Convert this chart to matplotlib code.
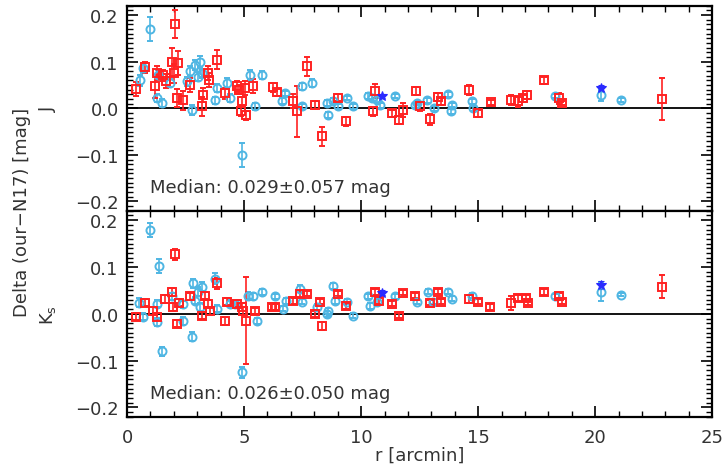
"""
Photometry comparison: our magnitudes minus N17, as a function of radius.
Two stacked panels (J, Ks), IDL-style framing.
"""

import matplotlib
matplotlib.use("Agg")
import matplotlib.pyplot as plt
from matplotlib.ticker import MultipleLocator


# ---------------------------------------------------------------------------
# Data
# ---------------------------------------------------------------------------

# J band, cyan circles
j_cyan_r   = [0.55, 0.68, 0.98, 1.28, 1.32, 1.50, 1.84, 2.56, 2.70, 2.78, 2.90, 3.03, 3.10, 3.20,
              3.76, 3.85, 4.27, 4.40, 4.90, 5.26, 5.47, 5.77, 6.62, 6.75, 7.48, 7.48, 7.90, 8.55,
              8.60, 8.80, 9.00, 9.40, 9.66, 10.30, 10.45, 10.70, 10.80, 11.45, 12.30, 12.40, 12.80,
              13.10, 13.70, 13.85, 13.90, 14.75, 14.80, 18.30, 20.25, 21.10]
j_cyan_d   = [0.060, 0.086, 0.170, 0.022, 0.071, 0.011, 0.054, 0.058, 0.080, -0.004, 0.093, 0.068,
              0.100, 0.075, 0.017, 0.043, 0.054, 0.022, -0.100, 0.071, 0.004, 0.071, 0.015, 0.032,
              0.047, 0.004, 0.054, 0.011, -0.015, 0.015, 0.004, 0.022, 0.004, 0.026, 0.022, 0.017,
              0.006, 0.026, 0.006, 0.011, 0.017, 0.000, 0.030, -0.007, 0.007, 0.015, 0.000, 0.026,
              0.028, 0.017]
j_cyan_e   = [0.012, 0.010, 0.025, 0.008, 0.010, 0.008, 0.008, 0.010, 0.010, 0.010, 0.010, 0.010,
              0.012, 0.010, 0.008, 0.008, 0.010, 0.008, 0.025, 0.010, 0.008, 0.008, 0.006, 0.006,
              0.008, 0.006, 0.008, 0.006, 0.006, 0.006, 0.006, 0.005, 0.005, 0.006, 0.006, 0.006,
              0.006, 0.005, 0.005, 0.005, 0.005, 0.005, 0.005, 0.005, 0.005, 0.005, 0.005, 0.005,
              0.012, 0.004]

# J band, red squares
j_red_r    = [0.38, 0.77, 1.20, 1.30, 1.54, 1.67, 1.92, 2.05, 2.00, 2.18, 2.14, 2.40, 2.70, 3.20,
              3.25, 3.46, 3.50, 3.85, 4.19, 4.70, 4.80, 4.90, 4.87, 5.10, 5.04, 5.40, 6.24, 6.40,
              7.10, 7.26, 7.70, 8.03, 8.33, 9.00, 9.36, 10.60, 10.50, 11.30, 11.60, 11.80, 12.35,
              12.50, 12.95, 13.30, 13.40, 14.60, 15.00, 15.55, 16.40, 16.70, 16.90, 17.10, 17.80,
              18.45, 18.60, 22.85]
j_red_d    = [0.041, 0.088, 0.047, 0.075, 0.071, 0.058, 0.100, 0.180, 0.075, 0.097, 0.022, 0.017,
              0.050, 0.004, 0.028, 0.075, 0.060, 0.104, 0.032, 0.047, 0.040, 0.015, -0.007, -0.015,
              0.043, 0.047, 0.045, 0.034, 0.015, -0.007, 0.090, 0.007, -0.060, 0.023, -0.028,
              0.037, -0.007, -0.011, -0.025, -0.004, 0.037, 0.004, -0.024, 0.024, 0.015, 0.039,
              -0.011, 0.013, 0.018, 0.015, 0.021, 0.028, 0.060, 0.021, 0.011, 0.019]
j_red_e    = [0.015, 0.012, 0.025, 0.015, 0.012, 0.015, 0.030, 0.030, 0.020, 0.025, 0.020, 0.020,
              0.015, 0.020, 0.015, 0.015, 0.015, 0.020, 0.012, 0.012, 0.010, 0.010, 0.010, 0.010,
              0.015, 0.015, 0.010, 0.008, 0.015, 0.055, 0.020, 0.008, 0.020, 0.008, 0.010, 0.015,
              0.010, 0.008, 0.008, 0.015, 0.008, 0.010, 0.012, 0.008, 0.008, 0.010, 0.008, 0.005,
              0.010, 0.012, 0.008, 0.008, 0.008, 0.012, 0.005, 0.045]

# J band, blue stars
j_blue_r   = [10.90, 20.25]
j_blue_d   = [0.026, 0.043]
j_blue_e   = [0.005, 0.006]

# Ks band, cyan circles
k_cyan_r   = [0.50, 0.68, 0.98, 1.28, 1.28, 1.37, 1.50, 1.92, 2.40, 2.40, 2.78, 2.82, 3.03, 3.20,
              2.90, 3.10, 3.76, 3.85, 4.40, 4.60, 4.90, 5.17, 5.40, 5.55, 5.77, 6.30, 6.67, 6.80,
              7.40, 7.48, 8.10, 8.55, 8.60, 8.80, 8.90, 9.40, 9.66, 10.30, 10.40, 10.70, 11.45,
              12.40, 12.86, 13.08, 13.70, 13.90, 14.75, 18.30, 20.25, 21.10]
k_cyan_d   = [0.024, -0.006, 0.178, 0.022, -0.017, 0.103, -0.080, 0.037, 0.020, -0.015, -0.049,
              0.065, 0.047, 0.058, 0.028, 0.015, 0.075, 0.011, 0.022, 0.022, -0.125, 0.039, 0.037,
              -0.015, 0.047, 0.037, 0.011, 0.028, 0.054, 0.026, 0.015, 0.000, 0.006, 0.060, 0.028,
              0.026, -0.004, 0.037, 0.017, 0.026, 0.037, 0.026, 0.047, 0.026, 0.047, 0.032, 0.039,
              0.037, 0.047, 0.041]
k_cyan_e   = [0.010, 0.008, 0.015, 0.008, 0.008, 0.015, 0.010, 0.008, 0.008, 0.008, 0.010, 0.010,
              0.010, 0.010, 0.008, 0.008, 0.012, 0.008, 0.008, 0.008, 0.012, 0.008, 0.008, 0.006,
              0.006, 0.006, 0.006, 0.006, 0.008, 0.006, 0.006, 0.006, 0.006, 0.006, 0.006, 0.006,
              0.005, 0.006, 0.006, 0.006, 0.005, 0.005, 0.005, 0.005, 0.005, 0.005, 0.006, 0.005,
              0.020, 0.004]

# Ks band, red squares
k_red_r    = [0.38, 0.77, 1.10, 1.30, 1.62, 1.92, 2.05, 1.97, 2.14, 2.20, 2.70, 3.20, 3.33, 3.45,
              3.55, 3.85, 4.19, 4.27, 4.70, 4.90, 5.10, 4.95, 5.47, 6.20, 6.30, 7.10, 7.40, 7.70,
              8.03, 8.25, 8.33, 9.00, 9.36, 10.60, 10.75, 11.30, 11.60, 11.80, 12.30, 12.95, 13.30,
              13.40, 14.60, 15.00, 15.50, 16.40, 16.70, 17.05, 17.15, 17.80, 18.45, 18.60, 22.85]
k_red_d    = [-0.006, 0.024, 0.006, -0.006, 0.032, 0.047, 0.127, 0.015, -0.021, 0.024, 0.037,
              -0.004, 0.039, 0.022, 0.006, 0.065, -0.015, 0.026, 0.022, 0.015, -0.015, 0.006, 0.006,
              0.015, 0.015, 0.028, 0.043, 0.043, 0.000, 0.026, -0.026, 0.043, 0.017, 0.047, 0.028,
              0.022, -0.004, 0.045, 0.039, 0.024, 0.047, 0.026, 0.032, 0.026, 0.015, 0.024, 0.034,
              0.034, 0.024, 0.047, 0.039, 0.026, 0.058]
k_red_e    = [0.008, 0.008, 0.008, 0.008, 0.008, 0.008, 0.012, 0.008, 0.008, 0.008, 0.008, 0.008,
              0.008, 0.008, 0.008, 0.012, 0.008, 0.008, 0.008, 0.008, 0.093, 0.008, 0.006, 0.006,
              0.006, 0.006, 0.008, 0.006, 0.006, 0.006, 0.008, 0.006, 0.006, 0.006, 0.006, 0.005,
              0.005, 0.005, 0.005, 0.006, 0.005, 0.005, 0.008, 0.006, 0.006, 0.015, 0.006, 0.006,
              0.006, 0.006, 0.006, 0.006, 0.025]

# Ks band, blue stars
k_blue_r   = [10.90, 20.25]
k_blue_d   = [0.045, 0.062]
k_blue_e   = [0.005, 0.008]

band_labels   = ["J", "K$_\\mathrm{s}$"]
median_labels = ["Median: 0.029\u00b10.057 mag", "Median: 0.026\u00b10.050 mag"]

CYAN = "#4fb6e3"
RED  = "#ff2222"
BLUE = "#2a2aff"
TEXT = "#333333"


# ---------------------------------------------------------------------------
# Plot helpers
# ---------------------------------------------------------------------------

def style_axis(ax, show_xlabels: bool) -> None:
    ax.set_xlim(0, 25)
    ax.set_ylim(-0.22, 0.22)
    ax.xaxis.set_major_locator(MultipleLocator(5))
    ax.xaxis.set_minor_locator(MultipleLocator(1))
    ax.yaxis.set_major_locator(MultipleLocator(0.1))
    ax.yaxis.set_minor_locator(MultipleLocator(0.01))
    ax.tick_params(which="both", direction="in", top=True, right=True,
                   labelsize=13, width=1.2, color="black", labelcolor=TEXT)
    ax.tick_params(which="major", length=8)
    ax.tick_params(which="minor", length=4, width=1.0)
    ax.tick_params(axis="x", pad=8)
    ax.tick_params(axis="y", pad=6)
    ax.set_yticks([-0.2, -0.1, 0.0, 0.1, 0.2])
    ax.set_yticklabels(["\u22120.2", "\u22120.1", "0.0", "0.1", "0.2"])
    if not show_xlabels:
        ax.tick_params(axis="x", labelbottom=False)
    for s in ax.spines.values():
        s.set_linewidth(1.6)


def draw_panel(ax, cyan, red, blue, band, median) -> None:
    ax.axhline(0.0, color="black", lw=1.3, zorder=1)
    common = dict(ls="none", capsize=2.5, elinewidth=1.2, capthick=1.2, zorder=3)
    r, d, e = cyan
    ax.errorbar(r, d, yerr=e, fmt="o", ms=5.8, mfc="none", mec=CYAN, mew=1.4,
                ecolor=CYAN, **common)
    r, d, e = red
    ax.errorbar(r, d, yerr=e, fmt="s", ms=6.2, mfc="none", mec=RED, mew=1.4,
                ecolor=RED, **common)
    r, d, e = blue
    ax.errorbar(r, d, yerr=e, fmt="*", ms=7, mfc=BLUE, mec=BLUE, mew=0.8,
                ecolor=BLUE, **common)
    ax.text(0.04, 0.115, median, transform=ax.transAxes, fontsize=13,
            color=TEXT, ha="left", va="center")
    ax.text(-0.135, 0.5, band, transform=ax.transAxes, fontsize=13, color=TEXT,
            rotation=90, ha="center", va="center")


# ---------------------------------------------------------------------------
# Main
# ---------------------------------------------------------------------------

def main() -> None:
    fig = plt.figure(figsize=(7.26, 4.77), dpi=100)
    ax_j = fig.add_axes([0.175, 0.556, 0.806, 0.430])
    ax_k = fig.add_axes([0.175, 0.124, 0.806, 0.432])

    draw_panel(ax_j, (j_cyan_r, j_cyan_d, j_cyan_e), (j_red_r, j_red_d, j_red_e),
               (j_blue_r, j_blue_d, j_blue_e), band_labels[0], median_labels[0])
    draw_panel(ax_k, (k_cyan_r, k_cyan_d, k_cyan_e), (k_red_r, k_red_d, k_red_e),
               (k_blue_r, k_blue_d, k_blue_e), band_labels[1], median_labels[1])

    style_axis(ax_j, show_xlabels=False)
    style_axis(ax_k, show_xlabels=True)

    ax_k.set_xlabel("r [arcmin]", fontsize=13, labelpad=0, color=TEXT)
    fig.text(0.03, 0.555, "Delta (our\u2212N17) [mag]", rotation=90, fontsize=13,
             color=TEXT, ha="center", va="center")

    fig.savefig("out.png", dpi=100)
    plt.close(fig)


if __name__ == "__main__":
    main()
